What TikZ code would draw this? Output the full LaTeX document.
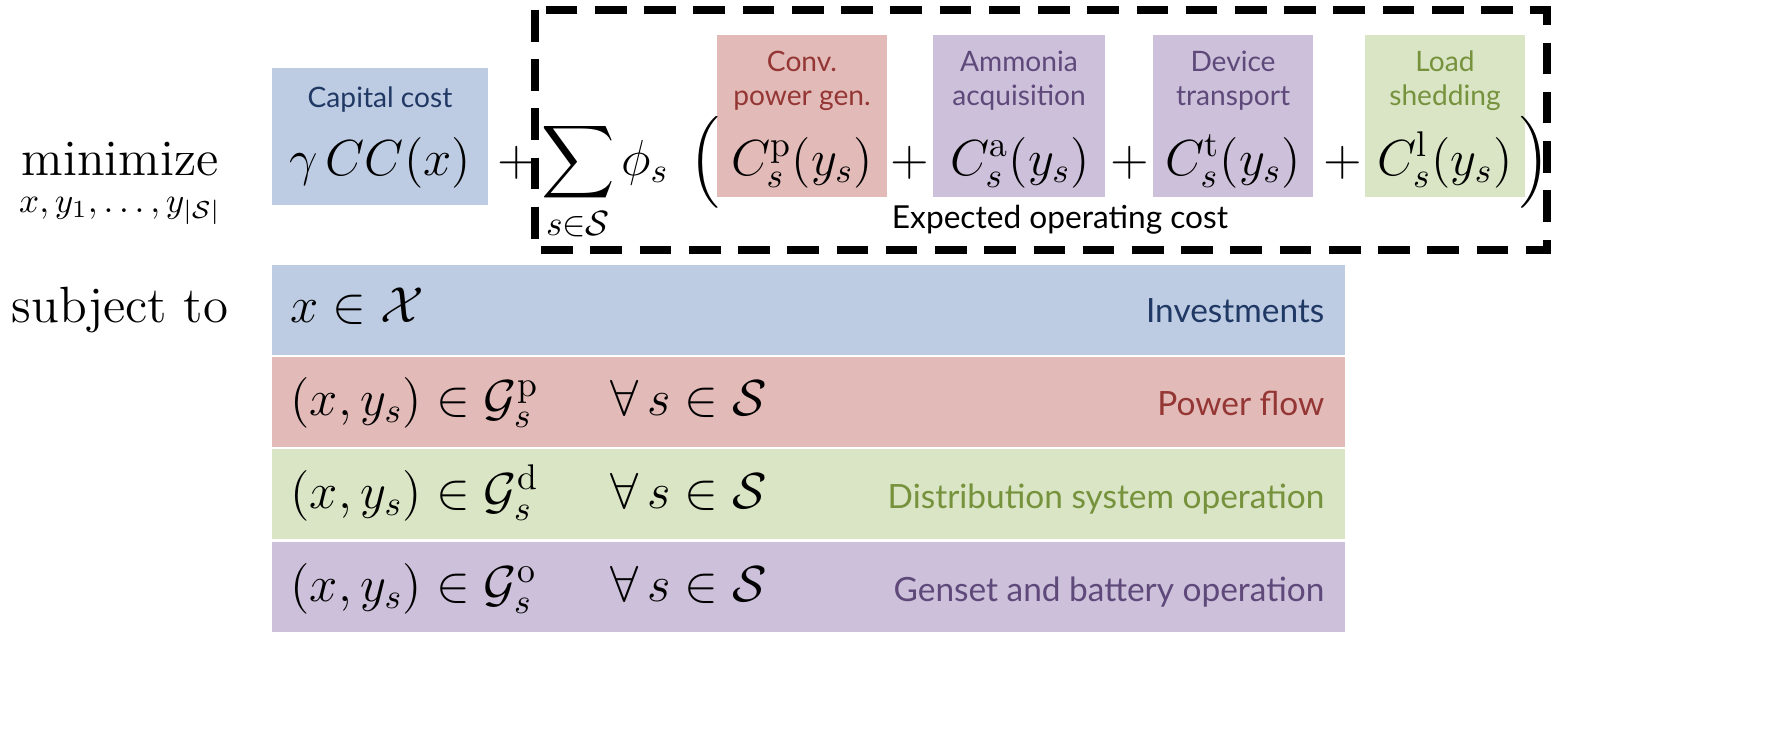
\documentclass[tikz,border=0pt]{standalone}
\usepackage{amsmath}
\usepackage{amssymb}
\usepackage{fontspec}
\newfontfamily\labelfont{Lato}
\usetikzlibrary{positioning}
\definecolor{cblue}{HTML}{BDCCE3}
\definecolor{cred}{HTML}{E2BAB8}
\definecolor{cgreen}{HTML}{D9E5C4}
\definecolor{cpurple}{HTML}{CCC0DA}
\definecolor{tblue}{HTML}{203864}
\definecolor{tred}{HTML}{943634}
\definecolor{tgreen}{HTML}{76923C}
\definecolor{tpurple}{HTML}{5F497A}
\tikzset{mathtxt/.style={inner sep=0pt,anchor=base,font=\fontsize{14.5}{17}\selectfont}}
\tikzset{toplbl/.style={inner sep=0pt,align=center,font=\labelfont\fontsize{8}{9.6}\selectfont}}
\tikzset{rowlbl/.style={inner sep=0pt,anchor=base east,font=\labelfont\fontsize{9.5}{11}\selectfont}}
\begin{document}
\begin{tikzpicture}
      [
      x=0.01cm,y=-0.01cm,
      ]
      \useasboundingbox (0,0) rectangle (1780,736);

      % boxes
      \fill [cblue] (272,68) rectangle (488,205);
      \fill [cred] (717,35) rectangle (887,197);
      \fill [cpurple] (933,35) rectangle (1105,197);
      \fill [cpurple] (1153,35) rectangle (1313,197);
      \fill [cgreen] (1365,35) rectangle (1525,197);
      \draw [black,line width=2.2pt,dash pattern=on 9pt off 5pt] (535,10) rectangle (1547,250);

      \foreach \c/\y in {cblue/265,cred/357,cgreen/449,cpurple/542}
      {
      \fill [\c] (272,\y) rectangle (1345,\y+90);
      }

      % box labels
      \node [toplbl,text=tblue] (lcap) at (380,100) {Capital cost};
      \node [toplbl,text=tred] (lconv) at (802,81) {Conv.\\power gen.};
      \node [toplbl,text=tpurple] (lamm) at (1019,81) {Ammonia\\acquisition};
      \node [toplbl,text=tpurple] (ldev) at (1233,81) {Device\\transport};
      \node [toplbl,text=tgreen] (lload) at (1445,81) {Load\\shedding};
      \node [toplbl,font=\labelfont\fontsize{9}{11}\selectfont] (lexp) at (1060,220) {Expected operating cost};

      % objective
      \node [mathtxt] (mini) at (120,175) {$\operatorname{minimize}$};
      \node [mathtxt,font=\fontsize{10}{12}\selectfont] (mvar) at (120,212) {$x,y_1,\ldots,y_{|\mathcal{S}|}$};
      \node [mathtxt] (cc) at (380,175) {$\gamma\,CC(x)$};
      \node [mathtxt] (p1) at (517,175) {$+$};
      \node [mathtxt] (sum) at (578,175) {$\displaystyle\sum_{s\in\mathcal{S}}$};
      \node [mathtxt] (phi) at (645,175) {$\phi_s$};
      \node [mathtxt] (lp) at (705,175) {$\Big($};
      \node [mathtxt] (cp) at (802,175) {$C^{\mathrm{p}}_s(y_s)$};
      \node [mathtxt] (p2) at (910,175) {$+$};
      \node [mathtxt] (ca) at (1020,175) {$C^{\mathrm{a}}_s(y_s)$};
      \node [mathtxt] (p3) at (1130,175) {$+$};
      \node [mathtxt] (ct) at (1233,175) {$C^{\mathrm{t}}_s(y_s)$};
      \node [mathtxt] (p4) at (1343,175) {$+$};
      \node [mathtxt] (cl) at (1445,175) {$C^{\mathrm{l}}_s(y_s)$};
      \node [mathtxt] (rp) at (1535,175) {$\Big)$};

      % constraints
      \node [mathtxt] (subj) at (120,322) {subject to};
      \node [mathtxt,anchor=base west] (c1) at (290,322) {$x\in\mathcal{X}$};
      \foreach \n/\sup/\y in {c2/p/415,c3/d/508,c4/o/601}
      {
      \node [mathtxt,anchor=base west] (\n) at (290,\y) {$(x,y_s)\in\mathcal{G}^{\mathrm{\sup}}_s$};
      \node [mathtxt,anchor=base west] (\n f) at (610,\y) {$\forall\,s\in\mathcal{S}$};
      }
      \node [rowlbl,text=tblue] (r1) at (1325,322) {Investments};
      \node [rowlbl,text=tred] (r2) at (1325,415) {Power flow};
      \node [rowlbl,text=tgreen] (r3) at (1325,508) {Distribution system operation};
      \node [rowlbl,text=tpurple] (r4) at (1325,601) {Genset and battery operation};

    \end{tikzpicture}
\end{document}
